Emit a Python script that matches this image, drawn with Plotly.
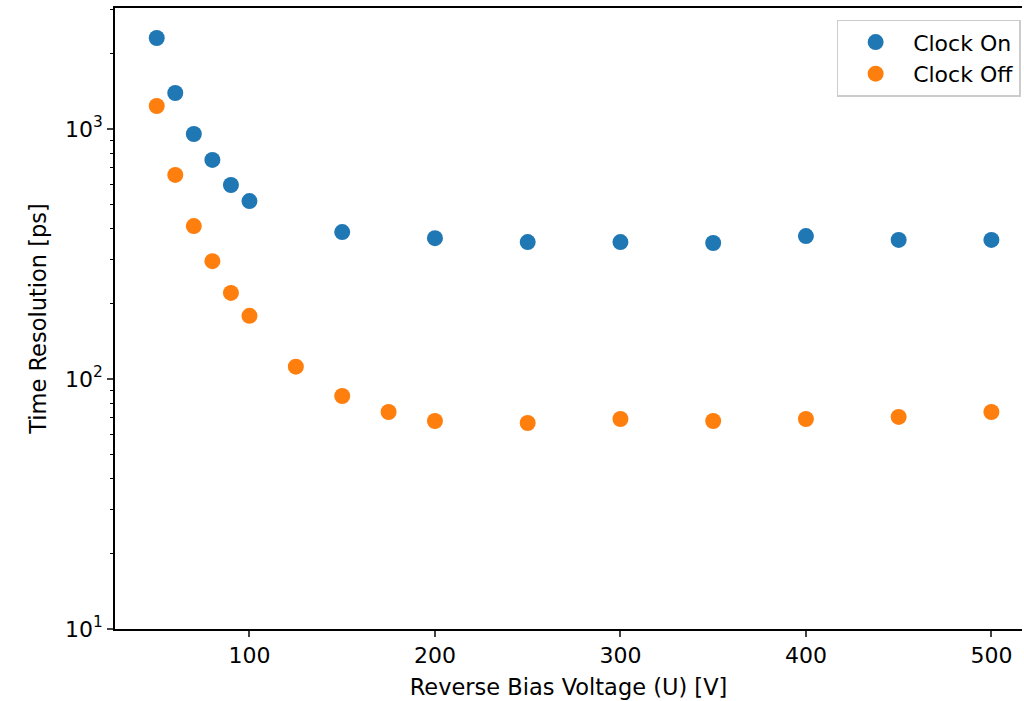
import plotly.graph_objects as go

voltage_on = [50, 60, 70, 80, 90, 100, 150, 200, 250, 300, 350, 400, 450, 500]
res_on = [2312, 1393, 955, 752, 597, 515, 387, 366, 353, 353, 350, 373, 360, 360]

voltage_off = [50, 60, 70, 80, 90, 100, 125, 150, 175, 200, 250, 300, 350, 400, 450, 500]
res_off = [1236, 655, 409, 296, 221, 179, 112, 85.5, 73.8, 67.9, 66.7, 69.2, 67.9, 69.2, 70.5, 73.8]

y_tickvals = [10, 100, 1000]
y_ticktext = ["10<sup>1</sup>", "10<sup>2</sup>", "10<sup>3</sup>"]
x_tickvals = [100, 200, 300, 400, 500]
minor_vals = [m * d for d in (10, 100, 1000) for m in range(2, 10)]

fig = go.Figure()
fig.add_trace(go.Scatter(x=voltage_on, y=res_on, mode="markers", name="Clock On",
                         marker=dict(color="#1f77b4", size=16)))
fig.add_trace(go.Scatter(x=voltage_off, y=res_off, mode="markers", name="Clock Off",
                         marker=dict(color="#ff7f0e", size=16)))

font = "DejaVu Sans"
fig.update_layout(
    width=1024, height=701,
    margin=dict(l=115, r=2, t=8, b=72),
    plot_bgcolor="white", paper_bgcolor="white",
    font=dict(family=font, size=22, color="black"),
    showlegend=True,
    legend=dict(x=0.9985, xanchor="right", y=0.981, yanchor="top",
                bordercolor="#cccccc", borderwidth=1.5, bgcolor="white",
                font=dict(size=22), itemwidth=65, tracegroupgap=0),
)
fig.update_xaxes(
    range=[27.5, 516.5], tickvals=x_tickvals, ticks="outside", ticklen=6, tickwidth=1.5,
    showline=True, linecolor="black", linewidth=1.5, mirror=True, showgrid=False, zeroline=False,
    title=dict(text="Reverse Bias Voltage (U) [V]", font=dict(size=22.5), standoff=12),
    tickfont=dict(size=22),
)
fig.update_yaxes(
    type="log", range=[1, 3.484], tickvals=y_tickvals, ticktext=y_ticktext,
    ticks="outside", ticklen=6, tickwidth=1.5,
    minor=dict(tickvals=minor_vals, ticks="outside", ticklen=3.5, tickwidth=1, tickcolor="black", showgrid=False),
    showline=True, linecolor="black", linewidth=1.5, mirror=False, showgrid=False, zeroline=False,
    title=dict(text="Time Resolution [ps]", font=dict(size=22.5), standoff=12),
    tickfont=dict(size=22),
)

fig.write_html("out.html")
